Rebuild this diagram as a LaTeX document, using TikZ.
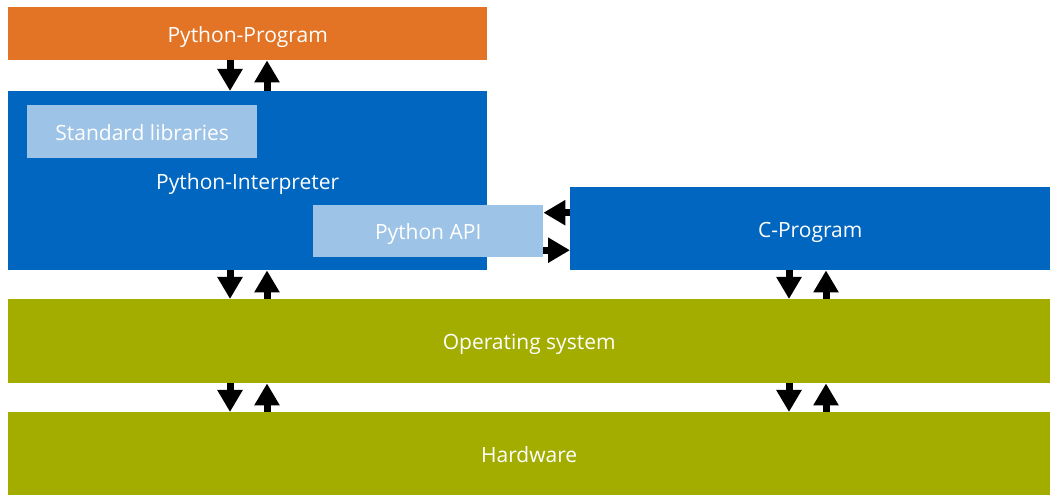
\documentclass[tikz,border=0pt]{standalone}
\usepackage{fontspec}
\setmainfont{Open Sans}
\usetikzlibrary{arrows.meta}
\definecolor{myorange}{RGB}{227,116,38}
\definecolor{myblue}{RGB}{0,102,191}
\definecolor{mylightblue}{RGB}{157,195,230}
\definecolor{myolive}{RGB}{162,173,0}
\tikzset{box/.style = {inner sep = 0pt, text = white, anchor = north west, font = \fontsize{21}{25}\selectfont,
    text height = 17pt, text depth = 0pt},
  flow/.style = {line width = 7pt, -{Triangle[width = 24pt, length = 22pt]}}}

\begin{document}
\begin{tikzpicture}[x = 1pt, y = -1pt]
\useasboundingbox (0,0) rectangle (1058,502);
\node[box, fill = myorange, minimum width = 479pt, minimum height = 53pt] (prog) at (8,7) {Python-Program};
\node[box, fill = myblue, minimum width = 479pt, minimum height = 179pt] (interp) at (8,91) {Python-Interpreter};
\node[box, fill = mylightblue, minimum width = 230pt, minimum height = 53pt] (stdlib) at (27,105) {Standard libraries};
\node[box, fill = mylightblue, minimum width = 230pt, minimum height = 52pt] (api) at (313,205) {Python API};
\node[box, fill = myblue, minimum width = 480pt, minimum height = 83pt] (cprog) at (570,187) {C-Program};
\node[box, fill = myolive, minimum width = 1042pt, minimum height = 84pt] (os) at (8,299) {Operating system};
\node[box, fill = myolive, minimum width = 1042pt, minimum height = 83pt] (hw) at (8,412) {Hardware};
% program <-> interpreter
\draw[flow] ([xshift = 222pt]prog.south west) -- ([xshift = 222pt]interp.north west);
\draw[flow] ([xshift = 259pt]interp.north west) -- ([xshift = 259pt]prog.south west);
% interpreter <-> os
\draw[flow] ([xshift = 222pt]interp.south west) -- ([xshift = 222pt]os.north west);
\draw[flow] ([xshift = 259pt]os.north west) -- ([xshift = 259pt]interp.south west);
% c program <-> os
\draw[flow] ([xshift = 219pt]cprog.south west) -- ([xshift = 781pt]os.north west);
\draw[flow] ([xshift = 818pt]os.north west) -- ([xshift = 256pt]cprog.south west);
% os <-> hardware
\draw[flow] ([xshift = 222pt]os.south west) -- ([xshift = 222pt]hw.north west);
\draw[flow] ([xshift = 259pt]hw.north west) -- ([xshift = 259pt]os.south west);
\draw[flow] ([xshift = 781pt]os.south west) -- ([xshift = 781pt]hw.north west);
\draw[flow] ([xshift = 818pt]hw.north west) -- ([xshift = 818pt]os.south west);
% api <-> c program
\draw[flow] ([yshift = 16pt]cprog.west) -- ([yshift = 18.5pt]api.east);
\draw[flow] ([yshift = -19pt]api.east) -- ([yshift = -21.5pt]cprog.west);
\end{tikzpicture}
\end{document}
